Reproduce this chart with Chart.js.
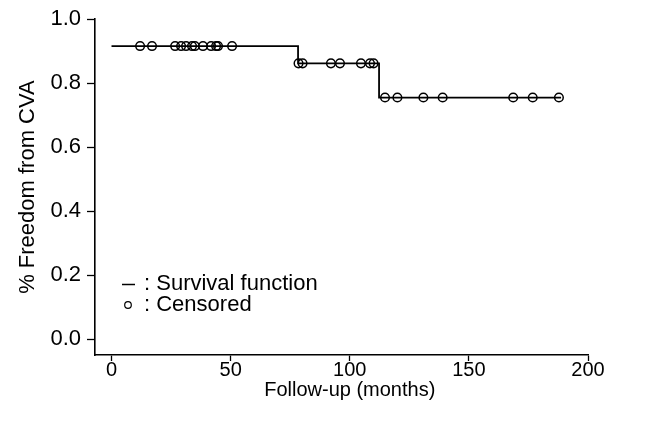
<!DOCTYPE html>
<html>
<head>
<meta charset="utf-8">
<script src="https://cdn.jsdelivr.net/npm/chart.js@4"></script>
<style>
html,body{margin:0;padding:0;background:#fff;}
#wrap{width:653px;height:428px;}
</style>
</head>
<body>
<div id="wrap"><canvas id="c" width="653" height="428"></canvas></div>
<script>
// Kaplan-Meier step function (event times and survival after each step)
const kmTimes = [0, 78.3, 112.3, 188.7];
const kmSurv  = [0.916, 0.862, 0.755, 0.755];
// Censored observations
const censTimes = [12.0, 17.0, 26.7, 29.2, 31.3, 33.8, 35.0, 38.4, 41.8, 43.9, 44.7, 50.6,
                   78.5, 80.2, 92.1, 95.9, 104.7, 108.5, 110.0,
                   114.8, 120.0, 130.9, 139.0, 168.6, 176.8, 187.8];
const censSurv  = [0.916, 0.916, 0.916, 0.916, 0.916, 0.916, 0.916, 0.916, 0.916, 0.916, 0.916, 0.916,
                   0.862, 0.862, 0.862, 0.862, 0.862, 0.862, 0.862,
                   0.755, 0.755, 0.755, 0.755, 0.755, 0.755, 0.755];
const xTicks = [0, 50, 100, 150, 200];
const yTicks = [0.0, 0.2, 0.4, 0.6, 0.8, 1.0];
const legendLabels = [': Survival function', ': Censored'];
const xTitle = 'Follow-up (months)';
const yTitle = '% Freedom from CVA';

const FONT = "'Liberation Sans', Arial, Helvetica, sans-serif";

const extrasPlugin = {
  id: 'kmExtras',
  afterDraw(chart) {
    const ctx = chart.ctx;
    const xs = chart.scales.x;
    ctx.save();
    ctx.fillStyle = '#000';
    ctx.strokeStyle = '#000';
    // x-axis title, centred on the tick range
    ctx.font = "20px " + FONT;
    ctx.textAlign = 'center';
    ctx.textBaseline = 'middle';
    const mid = (xTicks[0] + xTicks[xTicks.length - 1]) / 2;
    ctx.fillText(xTitle, xs.getPixelForValue(mid), 390);
    // legend
    ctx.font = "22px " + FONT;
    ctx.textAlign = 'left';
    ctx.lineWidth = 1.5;
    ctx.beginPath();
    ctx.moveTo(122, 284.5);
    ctx.lineTo(135, 284.5);
    ctx.stroke();
    ctx.fillText(legendLabels[0], 144, 284);
    ctx.lineWidth = 1.2;
    ctx.beginPath();
    ctx.arc(128, 305, 3.3, 0, Math.PI * 2);
    ctx.stroke();
    ctx.fillText(legendLabels[1], 144, 305);
    ctx.restore();
  }
};

new Chart(document.getElementById('c'), {
  type: 'scatter',
  data: {
    datasets: [
      {
        label: 'Survival function',
        data: kmTimes.map((t, i) => ({x: t, y: kmSurv[i]})),
        showLine: true,
        stepped: 'before',
        borderColor: '#000',
        borderWidth: 1.8,
        pointRadius: 0,
        fill: false
      },
      {
        label: 'Censored',
        data: censTimes.map((t, i) => ({x: t, y: censSurv[i]})),
        showLine: false,
        pointStyle: 'circle',
        pointRadius: 4.3,
        pointBorderWidth: 1.5,
        pointBorderColor: '#000',
        pointBackgroundColor: 'rgba(0,0,0,0)'
      }
    ]
  },
  options: {
    responsive: false,
    animation: false,
    devicePixelRatio: 1,
    layout: { padding: { left: 0, top: 19, right: 65, bottom: 0 } },
    plugins: { legend: { display: false }, tooltip: { enabled: false } },
    scales: {
      x: {
        type: 'linear',
        min: -6.93,
        max: 200,
        afterFit(s) { s.height = 73; },
        afterBuildTicks(s) { s.ticks = xTicks.map(v => ({value: v})); },
        ticks: {
          color: '#000',
          font: { family: FONT, size: 20 },
          padding: -3,
          maxRotation: 0,
          autoSkip: false,
          callback: v => String(v)
        },
        grid: { display: true, drawOnChartArea: false, drawTicks: true, tickLength: 6, tickColor: '#000', tickWidth: 1.3 },
        border: { display: true, color: '#000', width: 1.6 },
        title: { display: false }
      },
      y: {
        type: 'linear',
        min: -0.05,
        max: 1.0,
        afterFit(s) { s.width = 95; },
        afterBuildTicks(s) { s.ticks = yTicks.map(v => ({value: v})); },
        ticks: {
          color: '#000',
          font: { family: FONT, size: 22 },
          padding: 6,
          autoSkip: false,
          callback: v => Number(v).toFixed(1)
        },
        grid: { display: true, drawOnChartArea: false, drawTicks: true, tickLength: 8, tickColor: '#000', tickWidth: 1.3 },
        border: { display: true, color: '#000', width: 1.6 },
        title: { display: true, text: yTitle, color: '#000', font: { family: FONT, size: 22 }, padding: { top: 15, bottom: 0 } }
      }
    }
  },
  plugins: [extrasPlugin]
});
</script>
</body>
</html>
